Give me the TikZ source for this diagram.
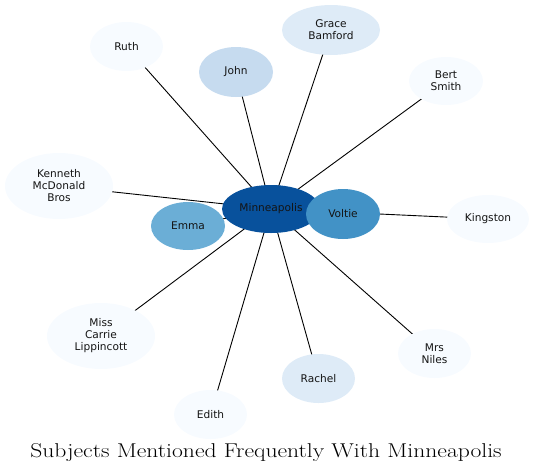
\documentclass[tikz,border=0pt]{standalone}
\usepackage{fontspec}
\newfontfamily\labelfont{DejaVu Sans}
\usetikzlibrary{shapes.geometric}
\definecolor{c0}{HTML}{F7FBFF}
\definecolor{c1}{HTML}{DEEBF7}
\definecolor{c2}{HTML}{C6DBEF}
\definecolor{c3}{HTML}{6BAED6}
\definecolor{c4}{HTML}{4292C6}
\definecolor{c5}{HTML}{08519C}
\tikzset{
  ent/.style={ellipse, inner sep=0pt, draw=none, align=center,
    font=\labelfont\fontsize{10.6}{12}\selectfont, text=black!92},
  link/.style={draw=black, line width=0.9pt},
}
\begin{document}
\begin{tikzpicture}[x=1pt,y=-1pt]
\useasboundingbox (0,0) rectangle (533,475);
% coordinates of centres
\coordinate (pM) at (271,209);
\coordinate (pV) at (343,214);
\coordinate (pEm) at (188,226);
\coordinate (pJ) at (236,72);
\coordinate (pG) at (331,30);
\coordinate (pR) at (126.5,46.5);
\coordinate (pB) at (446,81);
\coordinate (pK) at (59,186);
\coordinate (pKi) at (488,219);
\coordinate (pC) at (101,336);
\coordinate (pN) at (434.5,353.5);
\coordinate (pRa) at (318.5,378.5);
\coordinate (pE) at (210.5,414.5);
% connectors (centre to centre, beneath nodes)
\foreach \t in {pV,pEm,pJ,pG,pR,pB,pK,pKi,pC,pN,pRa,pE}
  \draw[link] (pM) -- (\t);
% nodes
\node[ent, fill=c0, minimum width=73pt, minimum height=49pt] (ruth) at (pR) {Ruth};
\node[ent, fill=c2, minimum width=74pt, minimum height=50pt] (john) at (pJ) {John};
\node[ent, fill=c1, minimum width=98pt, minimum height=50pt] (grace) at (pG) {Grace\\Bamford};
\node[ent, fill=c0, minimum width=74pt, minimum height=48pt] (bert) at (pB) {Bert\\Smith};
\node[ent, fill=c0, minimum width=108pt, minimum height=66pt] (kenneth) at (pK) {Kenneth\\McDonald\\Bros};
\node[ent, fill=c0, minimum width=82pt, minimum height=48pt] (kingston) at (pKi) {Kingston};
\node[ent, fill=c0, minimum width=108pt, minimum height=66pt] (carrie) at (pC) {Miss\\Carrie\\Lippincott};
\node[ent, fill=c0, minimum width=73pt, minimum height=49pt] (niles) at (pN) {Mrs\\Niles};
\node[ent, fill=c1, minimum width=73pt, minimum height=49pt] (rachel) at (pRa) {Rachel};
\node[ent, fill=c0, minimum width=73pt, minimum height=49pt] (edith) at (pE) {Edith};
\node[ent, fill=c3, minimum width=74pt, minimum height=48pt] (emma) at (pEm) {Emma};
\node[ent, fill=c5, minimum width=98pt, minimum height=48pt] (minn) at (pM) {Minneapolis};
\node[ent, fill=c4, minimum width=74pt, minimum height=50pt] (voltie) at (pV) {Voltie};
% title
\node[font=\fontsize{20}{24}\selectfont, inner sep=0pt] (title) at (266,453) {\scalebox{1.18}[1]{Subjects Mentioned Frequently With Minneapolis}};
\end{tikzpicture}
\end{document}
